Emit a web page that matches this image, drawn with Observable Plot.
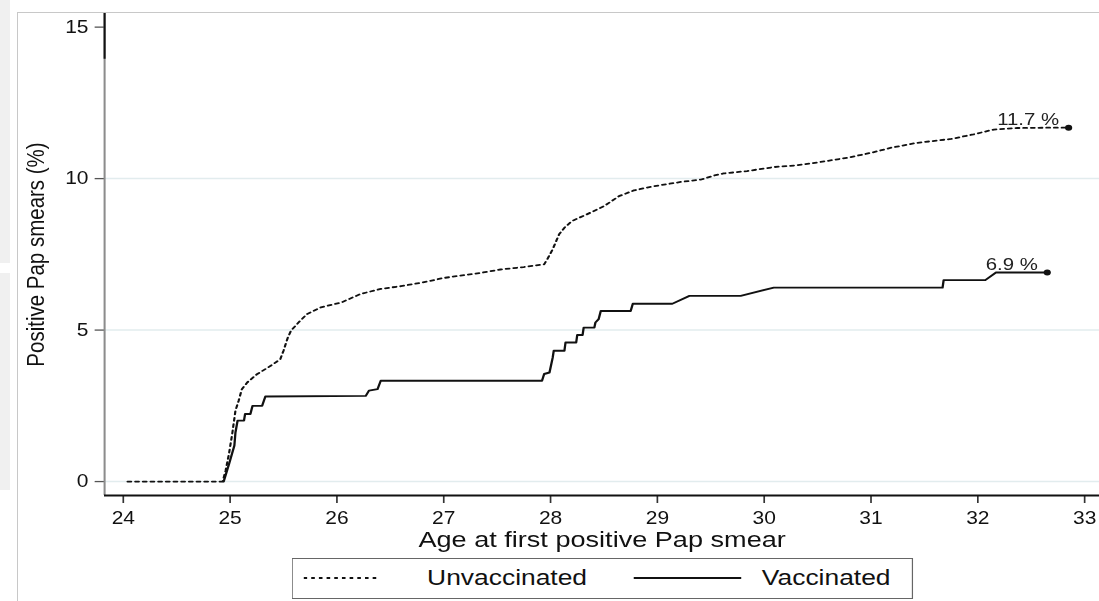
<!DOCTYPE html>
<html><head><meta charset="utf-8">
<script src="https://cdn.jsdelivr.net/npm/d3@7"></script>
<script src="https://cdn.jsdelivr.net/npm/@observablehq/plot@0.6"></script>
<style>
html,body{margin:0;padding:0;background:#fff;width:1099px;height:601px;overflow:hidden;position:relative;font-family:"Liberation Sans",Arial,sans-serif;}
.strip{position:absolute;left:0;width:10px;background:#f0f0f0;}
#outer{position:absolute;left:17px;top:12px;width:1100px;height:620px;border-left:1.5px solid #c8c8c8;border-top:1.5px solid #c8c8c8;}
#wrap{position:absolute;left:0;top:0;width:916px;transform-origin:0 0;transform:scaleX(1.19978);}
#legend{position:absolute;left:243px;top:558px;width:518px;height:41px;border:1.5px solid #666;box-sizing:border-box;background:#fff;color:#111;font-size:22px;}
#legend span{position:absolute;top:0;line-height:38px;white-space:nowrap;}
#legend svg{position:absolute;top:0;}
</style></head>
<body>
<div class="strip" style="top:0;height:263px"></div>
<div class="strip" style="top:273px;height:217px"></div>
<div id="outer"></div>
<div id="wrap"></div>
<script>
// ---- data ----
const unvaxAge = [24.04, 24.93, 24.958, 24.989, 25.02, 25.05, 25.08, 25.11, 25.16, 25.25, 25.38, 25.47, 25.50, 25.54, 25.57, 25.64, 25.72, 25.85, 26.04, 26.22, 26.41, 26.6, 26.8, 27.0, 27.2, 27.35, 27.53, 27.75, 27.94, 27.97, 28.02, 28.08, 28.13, 28.20, 28.34, 28.50, 28.64, 28.78, 28.97, 29.22, 29.41, 29.53, 29.62, 29.84, 30.09, 30.31, 30.53, 30.78, 31.0, 31.19, 31.43, 31.75, 31.96, 32.15, 32.37, 32.62, 32.85];
const unvaxPct = [0, 0, 0.36, 0.91, 1.58, 2.34, 2.67, 3.05, 3.27, 3.54, 3.82, 4.04, 4.32, 4.75, 4.98, 5.25, 5.53, 5.75, 5.91, 6.19, 6.36, 6.45, 6.57, 6.72, 6.82, 6.89, 7.0, 7.08, 7.17, 7.34, 7.67, 8.16, 8.38, 8.60, 8.82, 9.09, 9.42, 9.61, 9.75, 9.89, 9.97, 10.1, 10.17, 10.25, 10.38, 10.44, 10.55, 10.69, 10.85, 11.02, 11.18, 11.31, 11.46, 11.62, 11.67, 11.68, 11.68];
const vaxAge = [24.94, 24.99, 25.04, 25.05, 25.07, 25.13, 25.14, 25.19, 25.21, 25.30, 25.33, 26.27, 26.30, 26.38, 26.41, 27.92, 27.94, 27.99, 28.02, 28.03, 28.13, 28.14, 28.24, 28.25, 28.30, 28.31, 28.41, 28.42, 28.45, 28.47, 28.75, 28.77, 29.14, 29.30, 29.78, 30.09, 31.67, 31.68, 32.07, 32.17, 32.65];
const vaxPct = [0, 0.58, 1.19, 1.62, 2.01, 2.01, 2.23, 2.23, 2.5, 2.5, 2.81, 2.83, 3.0, 3.05, 3.33, 3.33, 3.55, 3.6, 4.09, 4.32, 4.32, 4.59, 4.59, 4.84, 4.84, 5.08, 5.08, 5.25, 5.36, 5.63, 5.63, 5.87, 5.87, 6.13, 6.13, 6.40, 6.40, 6.65, 6.65, 6.90, 6.90];
const seriesNames = ["Unvaccinated", "Vaccinated"];
const endLabels = ["11.7 %", "6.9 %"];
const xTicks = [24, 25, 26, 27, 28, 29, 30, 31, 32, 33];
const yTicks = [0, 5, 10, 15];
const gridValues = [0, 5, 10];
const xDomain = [23.825, 33.14];
const yDomain = [-0.46, 15.45];
const yAxisDarkFrom = 13.94;
const xTitle = "Age at first positive Pap smear";
const yTitle = "Positive Pap smears (%)";

// ---- build tables ----
const unvax = unvaxAge.map((a, i) => ({age: a, pct: unvaxPct[i]}));
const vax = vaxAge.map((a, i) => ({age: a, pct: vaxPct[i]}));
const ends = [unvax[unvax.length - 1], vax[vax.length - 1]].map((d, i) => ({...d, label: endLabels[i]}));

const K = 1099 / 916;
const W = 916, H = 552;
const INK = "#111";
const dash = "3,3.4";

const chart = Plot.plot({
  width: W, height: H,
  marginLeft: 104 / K, marginRight: 0, marginTop: 13, marginBottom: H - 495,
  style: {background: "transparent", fontFamily: "'Liberation Sans', Arial, sans-serif", color: INK, overflow: "visible"},
  x: {domain: xDomain},
  y: {domain: yDomain},
  marks: [
    Plot.ruleY(gridValues, {stroke: "#e2ecee", strokeWidth: 1.5}),
    Plot.axisX({ticks: xTicks, tickSize: 8, tickPadding: 8, fontSize: 17.5, label: null, stroke: "#333", strokeWidth: 1.4}),
    Plot.axisY({ticks: yTicks, tickSize: 7.8, tickPadding: 5.6, fontSize: 17.5, label: null, stroke: "#555", strokeWidth: 1.3}),
    Plot.ruleX([xDomain[0]], {stroke: "#8c8c8c", strokeWidth: 1.7}),
    Plot.ruleX([xDomain[0]], {y1: yAxisDarkFrom, y2: yDomain[1], stroke: INK, strokeWidth: 1.7}),
    Plot.ruleY([yDomain[0]], {stroke: INK, strokeWidth: 2}),
    Plot.text([xTitle], {frameAnchor: "bottom", textAnchor: "middle", dy: 51, lineAnchor: "bottom", fontSize: 22.6, fill: INK}),
    Plot.text([yTitle], {frameAnchor: "left", textAnchor: "middle", rotate: -90, dx: -65, lineAnchor: "top", fontSize: 20.5, fill: INK}),
    Plot.line(unvax, {x: "age", y: "pct", stroke: INK, strokeWidth: 1.8, strokeDasharray: dash}),
    Plot.line(vax, {x: "age", y: "pct", stroke: INK, strokeWidth: 1.9}),
    Plot.dot(ends, {x: "age", y: "pct", r: 3, fill: INK}),
    Plot.text(ends, {x: "age", y: "pct", text: "label", textAnchor: "end", lineAnchor: "bottom", dx: -7.9, dy: -3, fontSize: 17, fill: "#222"})
  ]
});
const wrap = document.getElementById("wrap");
wrap.appendChild(chart);

// ---- legend (below the SVG) ----
const legend = document.createElement("div");
legend.id = "legend";
const items = [
  {name: seriesNames[0], dash: dash, lx: 9, lw: 64, tx: 112},
  {name: seriesNames[1], dash: null, lx: 284, lw: 90, tx: 391}
];
items.forEach(it => {
  const s = d3.create("svg").attr("width", it.lw).attr("height", 38).style("left", it.lx + "px");
  s.append("line").attr("x1", 0).attr("x2", it.lw).attr("y1", 19).attr("y2", 19)
    .attr("stroke", INK).attr("stroke-width", 2).attr("stroke-dasharray", it.dash);
  legend.appendChild(s.node());
  const t = document.createElement("span");
  t.textContent = it.name;
  t.style.left = it.tx + "px";
  legend.appendChild(t);
});
wrap.appendChild(legend);
</script>
</body></html>
